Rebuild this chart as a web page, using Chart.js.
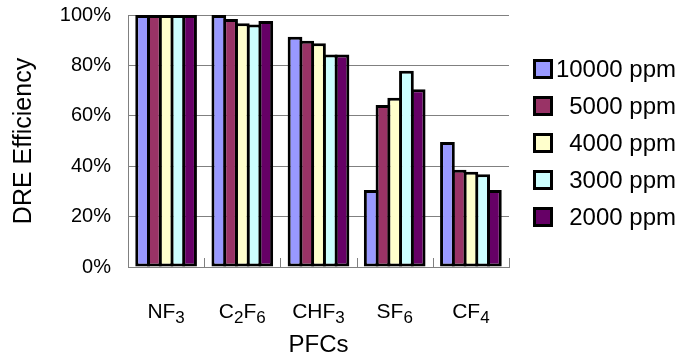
<!DOCTYPE html>
<html>
<head>
<meta charset="utf-8">
<script src="https://cdn.jsdelivr.net/npm/chart.js@4/dist/chart.umd.min.js"></script>
<style>
  html, body { margin: 0; padding: 0; background: #fff; }
  #wrap { position: relative; width: 678px; height: 360px; overflow: hidden; }
  #chart { position: absolute; left: 0; top: 0; }
  #legend { position: absolute; left: 0; top: 0; width: 678px; height: 360px; pointer-events: none;
            font-family: 'Liberation Sans', Arial, sans-serif; font-size: 24px; color: #000; }
  .lg-row { position: absolute; left: 533px; width: 143px; height: 30px; display: flex; align-items: center; }
  .lg-box { width: 20px; height: 20px; box-sizing: border-box; border: 3px solid #000; flex: none; }
  .lg-text { flex: 1; text-align: right; white-space: nowrap; line-height: 30px; }
</style>
</head>
<body>
<div id="wrap">
  <canvas id="chart" width="678" height="360"></canvas>
  <div id="legend"></div>
</div>
<script>
// Gases on the category axis (digits are drawn as subscripts)
const categories = ['NF3', 'C2F6', 'CHF3', 'SF6', 'CF4'];

// Destruction and removal efficiency (%) per inlet concentration
const seriesNames = ['10000 ppm', '5000 ppm', '4000 ppm', '3000 ppm', '2000 ppm'];
const dre10000 = [100, 100, 91.4, 30.6, 49.6];
const dre5000  = [100, 98.4, 89.8, 64.3, 38.6];
const dre4000  = [100, 96.7, 88.8, 67.2, 37.8];
const dre3000  = [100, 96.2, 84.3, 77.9, 36.8];
const dre2000  = [100, 97.6, 84.3, 70.5, 30.6];

// Value axis ticks
const yTicks = [0, 20, 40, 60, 80, 100];

const seriesValues = [dre10000, dre5000, dre4000, dre3000, dre2000];
const seriesColors = ['#9999FF', '#993366', '#FFFFCC', '#CCFFFF', '#660066'];

const FONT = "'Liberation Sans', Arial, sans-serif";

// Category labels with subscript digits
const formulaLabels = {
  id: 'formulaLabels',
  afterDraw(chart) {
    const x = chart.scales.x;
    const ctx = chart.ctx;
    const mainSize = 21, subSize = 17;
    const baseY = 318, subY = 323;
    ctx.save();
    ctx.fillStyle = '#000';
    ctx.textBaseline = 'alphabetic';
    ctx.textAlign = 'left';
    chart.data.labels.forEach((lab, i) => {
      const parts = lab.match(/[A-Za-z]+|\d+/g) || [];
      const segs = parts.map(p => {
        const sub = /^\d+$/.test(p);
        ctx.font = (sub ? subSize : mainSize) + 'px ' + FONT;
        return { text: p, sub, w: ctx.measureText(p).width };
      });
      const total = segs.reduce((s, g) => s + g.w, 0);
      let cx = x.getPixelForValue(i) - total / 2;
      segs.forEach(g => {
        ctx.font = (g.sub ? subSize : mainSize) + 'px ' + FONT;
        ctx.fillText(g.text, cx, g.sub ? subY : baseY);
        cx += g.w;
      });
    });
    ctx.restore();
  }
};

// Short inward tick marks between categories on the category axis
const categoryTicks = {
  id: 'categoryTicks',
  beforeDatasetsDraw(chart) {
    const x = chart.scales.x;
    const bottom = chart.chartArea.bottom;
    const n = chart.data.labels.length;
    const step = (x.right - x.left) / n;
    const ctx = chart.ctx;
    ctx.save();
    ctx.strokeStyle = '#808080';
    ctx.lineWidth = 1;
    ctx.beginPath();
    for (let i = 1; i <= n; i++) {
      const px = Math.round(x.left + step * i) + 0.5;
      ctx.moveTo(px, bottom);
      ctx.lineTo(px, bottom - 9);
    }
    ctx.stroke();
    ctx.restore();
  }
};

// Legend built from the datasets
const htmlLegend = {
  id: 'htmlLegend',
  afterUpdate(chart) {
    const host = document.getElementById('legend');
    host.innerHTML = '';
    chart.data.datasets.forEach((ds, i) => {
      const row = document.createElement('div');
      row.className = 'lg-row';
      row.style.top = (69 + 37 * i - 15) + 'px';
      const box = document.createElement('div');
      box.className = 'lg-box';
      box.style.background = ds.backgroundColor;
      const txt = document.createElement('span');
      txt.className = 'lg-text';
      txt.textContent = ds.label;
      row.appendChild(box);
      row.appendChild(txt);
      host.appendChild(row);
    });
  }
};

const datasets = seriesNames.map((name, i) => ({
  label: name,
  data: seriesValues[i],
  backgroundColor: seriesColors[i],
  borderColor: '#000000',
  borderWidth: 3,
  borderSkipped: false,
  categoryPercentage: 0.77,
  barPercentage: 1.256
}));

new Chart(document.getElementById('chart'), {
  type: 'bar',
  data: { labels: categories, datasets },
  plugins: [formulaLabels, categoryTicks, htmlLegend],
  options: {
    responsive: false,
    devicePixelRatio: 1,
    animation: false,
    layout: { padding: { left: 0, right: 169, top: 15, bottom: 0 } },
    plugins: {
      legend: { display: false },
      tooltip: { enabled: false }
    },
    scales: {
      x: {
        grid: { display: false },
        border: { display: true, color: '#808080', width: 1 },
        ticks: { display: false },
        title: {
          display: true,
          text: 'PFCs',
          color: '#000',
          font: { family: FONT, size: 24 },
          padding: { top: 0, bottom: 0 }
        },
        afterFit(scale) { scale.height = 93; }
      },
      y: {
        min: 0,
        max: 100,
        afterBuildTicks(scale) { scale.ticks = yTicks.map(v => ({ value: v })); },
        ticks: {
          color: '#000',
          font: { family: FONT, size: 20 },
          padding: 0,
          callback: v => v + '%'
        },
        grid: { color: '#808080', lineWidth: 1, drawTicks: true, tickLength: 17, tickColor: 'rgba(0,0,0,0)' },
        border: { display: true, color: '#808080', width: 1 },
        title: {
          display: true,
          text: 'DRE Efficiency',
          color: '#000',
          font: { family: FONT, size: 25 },
          padding: { top: 9, bottom: 0 }
        },
        afterFit(scale) { scale.width = 128; }
      }
    }
  }
});
</script>
</body>
</html>
